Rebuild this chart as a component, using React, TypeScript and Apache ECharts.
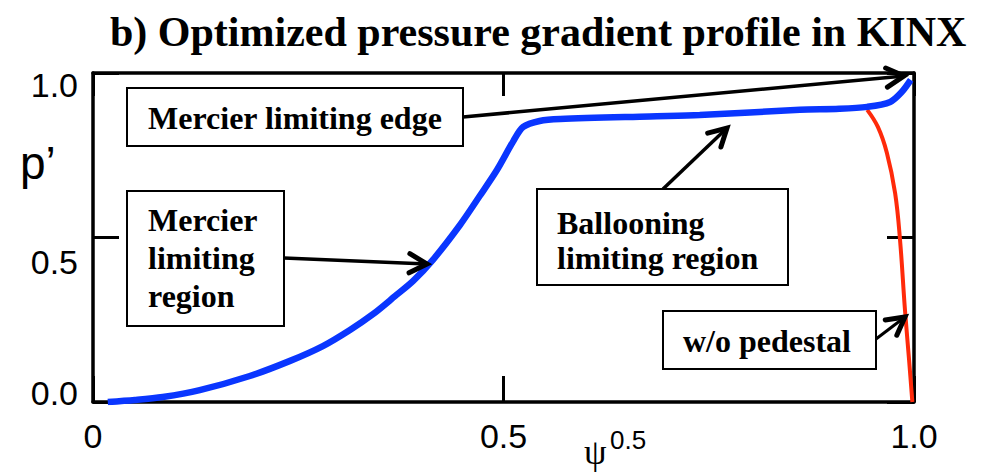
import React, { useEffect, useRef } from "react";
import * as echarts from "echarts";

// Optimized profile (blue): normalized pressure gradient vs sqrt(psi)
const psiOptimized = [0.018, 0.051, 0.085, 0.13, 0.191, 0.24, 0.28, 0.313, 0.341, 0.368, 0.39, 0.414, 0.447, 0.471, 0.492, 0.512, 0.524, 0.544, 0.569, 0.678, 0.739, 0.861, 0.909, 0.943, 0.971, 0.985, 0.996];
const pPrimeOptimized = [0.0, 0.006, 0.015, 0.036, 0.079, 0.125, 0.17, 0.219, 0.267, 0.322, 0.368, 0.432, 0.538, 0.626, 0.705, 0.793, 0.836, 0.854, 0.86, 0.868, 0.872, 0.888, 0.891, 0.897, 0.912, 0.942, 0.979];

// Profile without pedestal (red)
const psiNoPedestal = [0.943, 0.956, 0.967, 0.977, 0.983, 0.989, 0.994, 0.998];
const pPrimeNoPedestal = [0.888, 0.836, 0.757, 0.635, 0.492, 0.28, 0.128, 0.0];

const xTickLabels = ["0", "0.5", "1.0"];
const yTickLabels = ["0.0", "0.5", "1.0"];

const titleText = "b) Optimized pressure gradient profile in KINX";

const SERIF = "'Liberation Serif', 'Times New Roman', serif";
const SANS = "'Liberation Sans', Arial, Helvetica, sans-serif";

function arrow(x1: number, y1: number, x2: number, y2: number, w: number) {
  const ang = Math.atan2(y2 - y1, x2 - x1);
  const L = 20;
  const a = 0.5;
  const p1 = [x2 - L * Math.cos(ang - a), y2 - L * Math.sin(ang - a)];
  const p2 = [x2 - L * Math.cos(ang + a), y2 - L * Math.sin(ang + a)];
  return [
    { type: "line", z: 100, shape: { x1, y1, x2, y2 }, style: { stroke: "#000", lineWidth: w } },
    {
      type: "polyline",
      z: 100,
      shape: { points: [p1, [x2, y2], p2] },
      style: { stroke: "#000", fill: null, lineWidth: 5, lineJoin: "miter", lineCap: "round" },
    },
  ];
}

function box(x: number, y: number, w: number, h: number) {
  return {
    type: "rect",
    z: 101,
    shape: { x, y, width: w, height: h },
    style: { fill: "#fff", stroke: "#000", lineWidth: 2 },
  };
}

function label(x: number, y: number, text: string, lineHeight: number) {
  return {
    type: "text",
    z: 102,
    x,
    y,
    style: {
      text,
      fill: "#000",
      font: `bold 32px ${SERIF}`,
      lineHeight,
      textAlign: "left",
      textVerticalAlign: "middle",
    },
  };
}

export default function App() {
  const ref = useRef<HTMLDivElement>(null);

  useEffect(() => {
    document.body.style.margin = "0";
    if (!ref.current) return;
    const chart = echarts.init(ref.current, undefined, { renderer: "svg" });

    const tickStyle = { show: true, inside: true, length: 26, lineStyle: { color: "#000", width: 3 } };
    const lineStyle = { color: "#000", width: 3.5 };

    const option: any = {
      animation: false,
      backgroundColor: "#fff",
      title: {
        text: titleText,
        left: 105,
        top: 6,
        textStyle: { fontFamily: SERIF, fontWeight: "bold", fontSize: 42, color: "#000" },
      },
      grid: { left: 93, right: 77, top: 73, bottom: 73, containLabel: false },
      xAxis: [
        {
          type: "value",
          min: 0,
          max: 1,
          interval: 0.5,
          position: "bottom",
          axisLine: { show: true, onZero: false, lineStyle },
          axisTick: tickStyle,
          splitLine: { show: false },
          axisLabel: {
            margin: 17,
            color: "#000",
            fontFamily: SANS,
            fontSize: 34,
            formatter: (v: number) => xTickLabels[Math.round(v * 2)],
          },
        },
        {
          type: "value",
          min: 0,
          max: 1,
          interval: 0.5,
          position: "top",
          axisLine: { show: true, onZero: false, lineStyle },
          axisTick: { ...tickStyle, length: 23 },
          splitLine: { show: false },
          axisLabel: { show: false },
        },
      ],
      yAxis: [
        {
          type: "value",
          min: 0,
          max: 1,
          interval: 0.5,
          position: "left",
          axisLine: { show: true, onZero: false, lineStyle },
          axisTick: tickStyle,
          splitLine: { show: false },
          axisLabel: {
            margin: 15,
            formatter: (v: number) => {
              const i = Math.round(v * 2);
              return `{t${i}|${yTickLabels[i]}}`;
            },
            rich: {
              t0: { fontFamily: SANS, fontSize: 34, color: "#000", padding: [0, 0, 18, 0] },
              t1: { fontFamily: SANS, fontSize: 34, color: "#000", padding: [49, 0, 0, 0] },
              t2: { fontFamily: SANS, fontSize: 34, color: "#000", padding: [24, 0, 0, 0] },
            },
          },
        },
        {
          type: "value",
          min: 0,
          max: 1,
          interval: 0.5,
          position: "right",
          axisLine: { show: true, onZero: false, lineStyle },
          axisTick: { ...tickStyle, length: 27 },
          splitLine: { show: false },
          axisLabel: { show: false },
        },
      ],
      series: [
        {
          type: "line",
          name: "optimized",
          xAxisIndex: 0,
          yAxisIndex: 0,
          data: psiOptimized.map((x, i) => [x, pPrimeOptimized[i]]),
          smooth: 0.3,
          showSymbol: false,
          symbol: "none",
          lineStyle: { color: "#0a36ff", width: 6.5, cap: "butt" },
          z: 3,
        },
        {
          type: "line",
          name: "w/o pedestal",
          xAxisIndex: 0,
          yAxisIndex: 0,
          data: psiNoPedestal.map((x, i) => [x, pPrimeNoPedestal[i]]),
          smooth: 0.4,
          showSymbol: false,
          symbol: "none",
          lineStyle: { color: "#ff2a0a", width: 4, cap: "butt" },
          z: 2,
        },
      ],
      graphic: [
        // axis names
        {
          type: "text",
          x: 20,
          y: 163,
          style: { text: "p\u2019", fill: "#000", font: `46px ${SANS}`, textAlign: "left", textVerticalAlign: "middle" },
        },
        {
          type: "text",
          x: 584,
          y: 452,
          style: { text: "\u03c8", fill: "#000", font: `36px ${SERIF}`, textAlign: "left", textVerticalAlign: "middle" },
        },
        {
          type: "text",
          x: 610,
          y: 440,
          style: { text: "0.5", fill: "#000", font: `26px ${SANS}`, textAlign: "left", textVerticalAlign: "middle" },
        },
        // annotations
        ...arrow(463, 117, 904, 76, 3.5),
        box(127, 88, 336, 58),
        label(148, 118, "Mercier limiting edge", 34),

        ...arrow(284, 258, 427, 264, 3.5),
        box(127, 191, 157, 135),
        label(148, 258, "Mercier\nlimiting\nregion", 38),

        ...arrow(663, 189, 727, 128, 3.5),
        box(537, 189, 251, 96),
        label(557, 240, "Ballooning\nlimiting region", 35),

        ...arrow(876, 339, 905, 317, 3),
        box(663, 311, 213, 58),
        label(683, 341, "w/o pedestal", 34),
      ],
    };

    chart.setOption(option);
    return () => chart.dispose();
  }, []);

  return (
    <div
      ref={ref}
      style={{ position: "absolute", left: 0, top: 0, width: 991, height: 475, background: "#fff" }}
    />
  );
}
